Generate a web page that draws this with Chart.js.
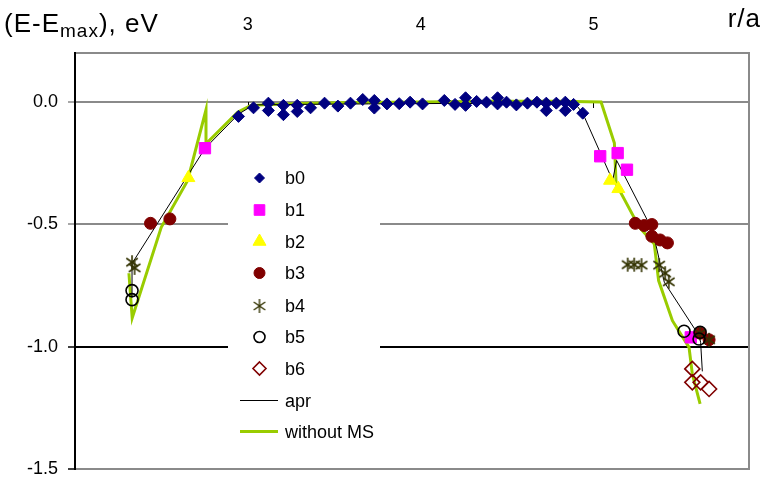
<!DOCTYPE html>
<html><head><meta charset="utf-8">
<script src="https://cdn.jsdelivr.net/npm/chart.js@4"></script>
<style>html,body{margin:0;padding:0;background:#fff;}</style>
</head><body>
<canvas id="c" width="763" height="479"></canvas>
<script>
// ---- data ----
const xTicks = [3, 4, 5];
const yTicks = [-1.5, -1.0, -0.5, 0.0];

const b0X = [2.946,3.033,3.119,3.119,3.206,3.206,3.286,3.286,3.363,3.444,3.521,3.594,3.665,3.732,3.732,3.805,3.876,3.939,4.011,4.137,4.199,4.260,4.260,4.324,4.381,4.445,4.445,4.497,4.554,4.618,4.673,4.727,4.727,4.785,4.837,4.837,4.885,4.938];
const b0Y = [-0.059,-0.024,-0.005,-0.035,-0.014,-0.052,-0.014,-0.039,-0.024,-0.005,-0.017,-0.005,0.010,0.006,-0.025,-0.008,-0.007,-0.001,-0.008,0.006,-0.010,0.017,-0.014,0.002,-0.001,0.017,-0.008,-0.001,-0.012,-0.005,-0.001,-0.005,-0.035,-0.005,-0.001,-0.035,-0.010,-0.046];
const b1X = [2.752, 5.039, 5.140, 5.194, 5.563];
const b1Y = [-0.189, -0.222, -0.209, -0.277, -0.962];
const b2X = [2.656, 5.096, 5.144];
const b2Y = [-0.310, -0.321, -0.355];
const b3X = [2.437, 2.549, 5.242, 5.294, 5.338, 5.338, 5.386, 5.428, 5.617, 5.669];
const b3Y = [-0.496, -0.478, -0.496, -0.505, -0.501, -0.549, -0.564, -0.576, -0.945, -0.972];
const b4X = [2.330, 2.345, 5.198, 5.236, 5.278, 5.380, 5.415, 5.436, 5.617, 5.669];
const b4Y = [-0.655, -0.678, -0.665, -0.665, -0.667, -0.667, -0.700, -0.735, -0.945, -0.972];
const b5X = [2.330, 2.330, 5.524, 5.611, 5.617];
const b5Y = [-0.771, -0.808, -0.937, -0.969, -0.941];
const b6X = [5.572, 5.572, 5.620, 5.669];
const b6Y = [-1.091, -1.146, -1.146, -1.173];
const aprX = [2.330, 2.330, 2.752, 2.946, 3.033, 3.3, 3.7, 4.2, 4.6, 4.9, 4.938, 5.111, 5.134, 5.313, 5.36, 5.41, 5.611, 5.620, 5.630];
const aprY = [-0.80, -0.66, -0.19, -0.05, -0.012, -0.010, -0.008, -0.006, -0.008, -0.012, -0.046, -0.321, -0.239, -0.485, -0.58, -0.737, -0.955, -0.982, -1.101];
const msX = [2.312, 2.331, 2.499, 2.652, 2.758, 2.758, 2.941, 3.017, 3.3, 3.6, 4.0, 4.4, 4.8, 5.044, 5.121, 5.131, 5.265, 5.352, 5.377, 5.457, 5.553, 5.572, 5.617];
const msY = [-0.700, -0.883, -0.512, -0.321, -0.032, -0.171, -0.042, -0.014, -0.006, -0.002, 0.0, 0.003, 0.003, 0.0, -0.168, -0.335, -0.512, -0.580, -0.730, -0.894, -1.003, -1.112, -1.234];

// ---- styling ----
const FONT = "'Liberation Sans', Arial, sans-serif";
const GRID = '#8a8a8a';
const pts = (xs, ys) => xs.map((x, i) => ({x: x, y: ys[i]}));

// six-armed asterisk marker image for b4
function asterisk(r, color, lw) {
  const c = document.createElement('canvas');
  const s = Math.ceil(2 * r + 4);
  c.width = s; c.height = s;
  const g = c.getContext('2d');
  g.strokeStyle = color; g.lineWidth = lw; g.lineCap = 'butt';
  const cx = s / 2, cy = s / 2;
  [0, 55, -55].forEach(d => {
    const a = d * Math.PI / 180;
    g.beginPath();
    g.moveTo(cx + Math.sin(a) * r, cy - Math.cos(a) * r);
    g.lineTo(cx - Math.sin(a) * r, cy + Math.cos(a) * r);
    g.stroke();
  });
  return c;
}
const starImg = asterisk(7, '#333300', 1.6);
const starLegendImg = asterisk(7, '#333300', 1.4);

const series = [
  {label:'b0', data:pts(b0X,b0Y), pointStyle:'rectRot', pointRadius:6, backgroundColor:'#000080', borderColor:'#000080', borderWidth:1, order:7},
  {label:'b1', data:pts(b1X,b1Y), pointStyle:'rect', pointRadius:8, backgroundColor:'#FF00FF', borderColor:'#FF00FF', borderWidth:1, order:6},
  {label:'b2', data:pts(b2X,b2Y), pointStyle:'triangle', pointRadius:7.5, backgroundColor:'#FFFF00', borderColor:'#FFFF00', borderWidth:1, order:5},
  {label:'b3', data:pts(b3X,b3Y), pointStyle:'circle', pointRadius:6, backgroundColor:'#800000', borderColor:'#800000', borderWidth:1, order:4},
  {label:'b4', data:pts(b4X,b4Y), pointStyle:starImg, pointRadius:7, backgroundColor:'rgba(0,0,0,0)', borderColor:'#333300', borderWidth:1.5, order:3},
  {label:'b5', data:pts(b5X,b5Y), pointStyle:'circle', pointRadius:6, backgroundColor:'rgba(0,0,0,0)', borderColor:'#000000', borderWidth:1.6, order:2},
  {label:'b6', data:pts(b6X,b6Y), pointStyle:'rectRot', pointRadius:7.5, backgroundColor:'rgba(0,0,0,0)', borderColor:'#800000', borderWidth:1.6, order:1},
  {label:'apr', data:pts(aprX,aprY), showLine:true, pointRadius:0, borderColor:'#000000', borderWidth:1, order:8},
  {label:'without MS', data:pts(msX,msY), showLine:true, pointRadius:0, borderColor:'#99CC00', borderWidth:3, order:9}
];
series.forEach(s => { if (!s.showLine) { s.showLine = false; s.pointHoverRadius = s.pointRadius; } });

function drawMarker(ctx, style, x, y, r, fill, stroke, lw) {
  ctx.save();
  if (style instanceof HTMLCanvasElement) {
    ctx.drawImage(starLegendImg, x - starLegendImg.width / 2, y - starLegendImg.height / 2);
    ctx.restore();
    return;
  }
  ctx.fillStyle = fill; ctx.strokeStyle = stroke; ctx.lineWidth = lw;
  ctx.beginPath();
  if (style === 'circle') { ctx.arc(x, y, r, 0, Math.PI*2); }
  else if (style === 'rect') { const h = r*Math.SQRT1_2; ctx.rect(x-h, y-h, 2*h, 2*h); }
  else if (style === 'rectRot') { ctx.moveTo(x, y-r); ctx.lineTo(x+r, y); ctx.lineTo(x, y+r); ctx.lineTo(x-r, y); ctx.closePath(); }
  else if (style === 'triangle') {
    for (let k = 0; k < 3; k++) { const a = k*2*Math.PI/3; const px = x + Math.sin(a)*r, py = y - Math.cos(a)*r; k ? ctx.lineTo(px,py) : ctx.moveTo(px,py); }
    ctx.closePath();
  }
  ctx.fill();
  ctx.stroke();
  ctx.restore();
}

const deco = {
  id: 'deco',
  beforeDatasetsDraw(chart) {
    const {ctx, chartArea: a, scales: {x, y}} = chart;
    ctx.save();
    ctx.strokeStyle = GRID; ctx.lineWidth = 2;
    ctx.beginPath(); ctx.moveTo(a.right, a.top - 1); ctx.lineTo(a.right, a.bottom + 1); ctx.stroke();
    const y0 = Math.round(y.getPixelForValue(0));
    ctx.strokeStyle = '#000'; ctx.lineWidth = 1;
    xTicks.forEach(v => {
      const px = Math.round(x.getPixelForValue(v)) + 0.5;
      ctx.beginPath(); ctx.moveTo(px, y0); ctx.lineTo(px, y0 + 6); ctx.stroke();
    });
    ctx.restore();
  },
  afterDatasetsDraw(chart) {
    const ctx = chart.ctx;
    ctx.save();
    ctx.fillStyle = '#fff';
    ctx.fillRect(228, 160, 152, 290);
    const rows = [178, 210, 241.5, 273, 306, 337, 368.5, 400.5, 431.5];
    const lsz = {b0:5, b1:7.5, b2:7.5, b3:5.5, b4:7, b5:5.5, b6:6.5};
    series.forEach((s, i) => {
      const yy = rows[i];
      if (s.showLine) {
        ctx.strokeStyle = s.borderColor; ctx.lineWidth = s.borderWidth;
        ctx.beginPath(); ctx.moveTo(240, yy); ctx.lineTo(278, yy); ctx.stroke();
      } else {
        drawMarker(ctx, s.pointStyle, 259.5, yy, lsz[s.label], s.backgroundColor, s.borderColor, s.borderWidth);
      }
      ctx.fillStyle = '#000';
      ctx.font = '18px ' + FONT;
      ctx.textBaseline = 'middle'; ctx.textAlign = 'left';
      ctx.fillText(s.label, 285, Math.round(yy) + 1);
    });
    ctx.restore();
  },
  afterDraw(chart) {
    const ctx = chart.ctx;
    ctx.save();
    ctx.fillStyle = '#000';
    ctx.textBaseline = 'alphabetic'; ctx.textAlign = 'left';
    try { ctx.letterSpacing = '1px'; } catch (e) {}
    let x = 4;
    ctx.font = '26px ' + FONT;
    ctx.fillText('(E-E', x, 32); x += ctx.measureText('(E-E').width;
    ctx.font = '19px ' + FONT;
    ctx.fillText('max', x, 37); x += ctx.measureText('max').width;
    ctx.font = '26px ' + FONT;
    ctx.fillText('), eV', x, 32);
    ctx.textAlign = 'right';
    ctx.fillText('r/a', 761, 27);
    ctx.restore();
  }
};

Chart.defaults.font.family = FONT;
new Chart(document.getElementById('c'), {
  type: 'scatter',
  data: { datasets: series },
  options: {
    responsive: false,
    devicePixelRatio: 1,
    animation: false,
    events: [],
    layout: { padding: { left: 0, right: 14, top: 0, bottom: 10 } },
    plugins: { legend: { display: false }, tooltip: { enabled: false } },
    scales: {
      x: {
        type: 'linear', position: 'top', min: 2, max: 5.9,
        afterBuildTicks: s => { s.ticks = xTicks.map(v => ({value: v})); },
        afterFit: s => { s.height = 53; s.paddingLeft = 0; s.paddingRight = 0; },
        grid: { display: false, drawTicks: false, tickLength: 0 },
        border: { display: false },
        ticks: { font: { family: FONT, size: 18 }, color: '#000', padding: 17, maxRotation: 0, autoSkip: false, callback: v => String(v) }
      },
      y: {
        type: 'linear', min: -1.5, max: 0.2,
        afterBuildTicks: s => { s.ticks = yTicks.concat([0.2]).map(v => ({value: v})); },
        afterFit: s => { s.width = 75; s.paddingTop = 0; s.paddingBottom = 0; },
        grid: {
          color: c => (c.tick && Math.abs(c.tick.value + 1) < 1e-6) ? '#000' : GRID,
          lineWidth: 2, drawTicks: true, tickLength: 7, tickWidth: 1.5,
          tickColor: c => (c.tick && c.tick.value > 0.1) ? 'rgba(0,0,0,0)' : ((c.tick && c.tick.value > -0.75) ? GRID : '#000')
        },
        border: { display: true, color: '#000', width: 2 },
        ticks: { font: { family: FONT, size: 18 }, color: '#000', padding: 10, callback: v => (v > 0.1 ? '' : Number(v).toFixed(1)) }
      }
    }
  },
  plugins: [deco]
});
</script>
</body></html>
